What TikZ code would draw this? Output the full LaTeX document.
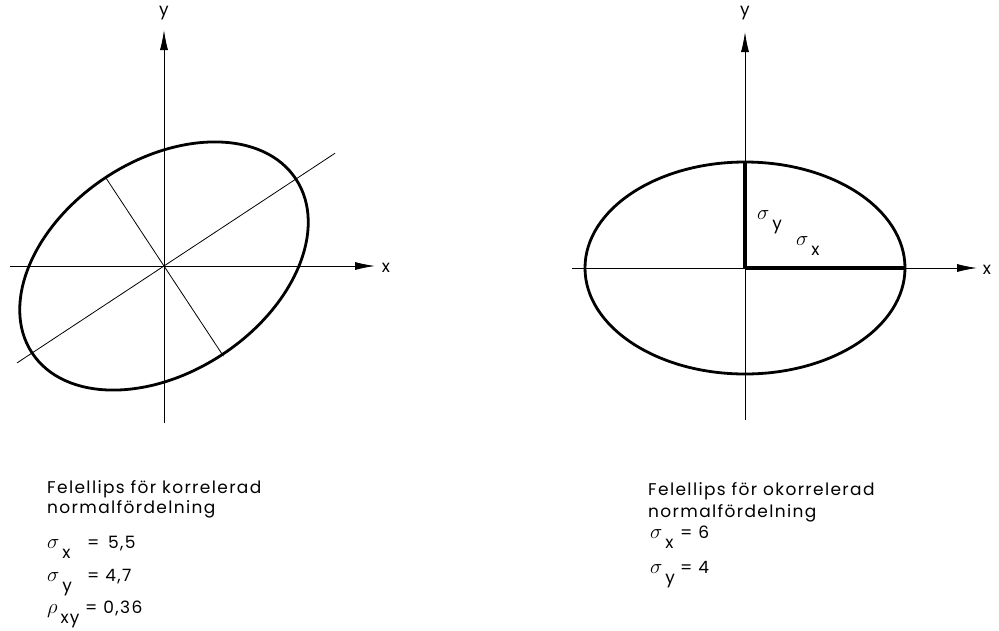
\documentclass[tikz,border=0pt]{standalone}
\usepackage{fontspec}
\setmainfont[LetterSpace=8]{Poppins}
\usepackage{tikz}
\usetikzlibrary{arrows.meta,calc}
\newcommand{\lowsub}[1]{\raisebox{-0.6em}{#1}}
\newcommand{\sig}{\scalebox{1.2}{$\sigma$}}
\newcommand{\rh}{\scalebox{1.2}{$\rho$}}
\tikzset{
  axis/.style={line width=0.9pt, -{Latex[length=20pt,width=8pt]}},
  curve/.style={line width=2.8pt},
  aux/.style={line width=0.8pt},
  sigmaline/.style={line width=3.6pt},
  lbl/.style={inner sep=0pt, anchor=base west, font=\fontsize{17}{20}\selectfont},
  axlbl/.style={inner sep=0pt, font=\fontsize{17}{20}\selectfont}
}
\begin{document}
\begin{tikzpicture}[x=1pt,y=-1pt]
  \useasboundingbox (0,0) rectangle (999,630);
  % left: correlated
  \coordinate (oL) at (164,266);
  \coordinate (xLs) at (10,266);
  \coordinate (xLe) at (375,266);
  \coordinate (yLs) at (164,423);
  \coordinate (yLe) at (164,30);
  \draw[axis] (xLs) -- (xLe);
  \draw[axis] (yLs) -- (yLe);
  \node[axlbl] (xL) at (386,268) {x};
  \node[axlbl] (yL) at (164,13) {y};
  \draw[curve] (oL) ellipse [x radius=158pt, y radius=106pt, rotate=33.4];
  \coordinate (majA) at ($(oL)+(213.4:176pt)$);
  \coordinate (majB) at ($(oL)+(33.4:205pt)$);
  \coordinate (minA) at ($(oL)+(123.4:106pt)$);
  \coordinate (minB) at ($(oL)+(303.4:108pt)$);
  \draw[aux] (majA) -- (majB);
  \draw[aux] (minA) -- (minB);

  \node[lbl] (tL1) at (47,493) {Felellips för korrelerad};
  \node[lbl] (tL2) at (47,513) {normalfördelning};
  \node[lbl] (sxL) at (47,548) {\makebox[40pt][l]{\sig\,\lowsub{x}}=\, 5,5};
  \node[lbl] (syL) at (47,581) {\makebox[40pt][l]{\sig\,\lowsub{y}}= 4,7};
  \node[lbl] (rxy) at (47,613) {\makebox[38pt][l]{\rh\,\lowsub{xy}}= 0,36};

  % right: uncorrelated
  \coordinate (oR) at (745,268);
  \coordinate (xRs) at (572,268);
  \coordinate (xRe) at (977,268);
  \coordinate (yRs) at (745,420);
  \coordinate (yRe) at (745,32);
  \draw[axis] (xRs) -- (xRe);
  \draw[axis] (yRs) -- (yRe);
  \node[axlbl] (xR) at (987,270) {x};
  \node[axlbl] (yR) at (745,13) {y};
  \draw[curve] (oR) ellipse [x radius=160pt, y radius=106pt];
  \coordinate (sxEnd) at (905,268);
  \coordinate (syEnd) at (745,163);
  \draw[sigmaline] (oR) -- (sxEnd);
  \draw[sigmaline] (oR) -- (syEnd);
  \node[lbl] (sy) at (757,219) {\sig\,\lowsub{y}};
  \node[lbl] (sx) at (796,245) {\sig\,\lowsub{x}};

  \node[lbl] (tR1) at (648,495) {Felellips för okorrelerad};
  \node[lbl] (tR2) at (648,517) {normalfördelning};
  \node[lbl] (sxR) at (650,538) {\makebox[30pt][l]{\sig\,\lowsub{x}}= 6};
  \node[lbl] (syR) at (650,573) {\makebox[30pt][l]{\sig\,\lowsub{y}}= 4};
\end{tikzpicture}
\end{document}
